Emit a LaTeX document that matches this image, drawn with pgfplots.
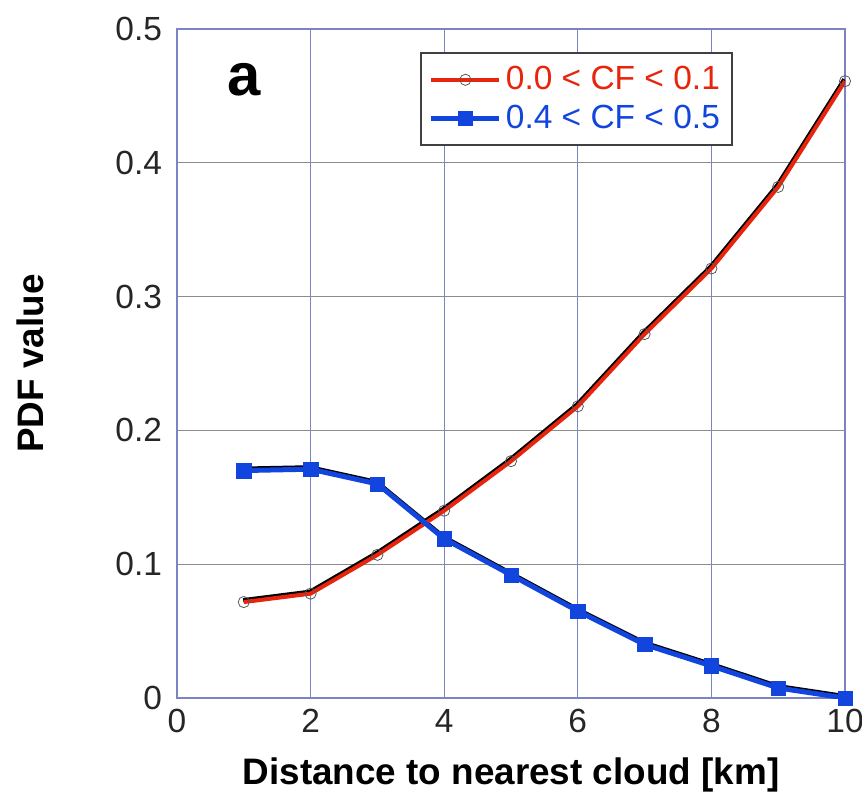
\documentclass[border=0pt]{standalone}
\usepackage{fontspec}
\setmainfont{Liberation Sans}
\usepackage{pgfplots}
\pgfplotsset{compat=1.18}
\definecolor{cfred}{RGB}{232,36,12}
\definecolor{cfblue}{RGB}{18,68,222}
\definecolor{gridblue}{RGB}{125,132,195}
\definecolor{gridgray}{RGB}{140,140,140}
\pgfplotstableread{
x y
1 0.0717
2 0.0780
3 0.1070
4 0.1400
5 0.1770
6 0.2180
7 0.2720
8 0.3210
9 0.3820
10 0.4610
}\redtab
\pgfplotstableread{
x y
1 0.1700
2 0.1710
3 0.1600
4 0.1190
5 0.0920
6 0.0650
7 0.0400
8 0.0240
9 0.0075
10 0.0000
}\bluetab
\begin{document}
\begin{tikzpicture}
\begin{axis}[
  scale only axis, width=334bp, height=334.5bp,
  xmin=0, xmax=10, ymin=0, ymax=0.5,
  xtick={0,2,4,6,8,10}, ytick={0,0.1,0.2,0.3,0.4,0.5},
  /pgf/number format/assume math mode=true,
  tick label style={font=\fontsize{16.8}{19}\selectfont, text=black!85},
  major tick length=0pt,
  xticklabel style={yshift=-2bp},
  yticklabel style={xshift=-4bp},
  grid=major,
  x grid style={gridblue, line width=0.6bp},
  y grid style={gridgray, line width=0.6bp},
  axis line style={gridblue, line width=0.6bp},
  xlabel={\bfseries Distance to nearest cloud [km]},
  ylabel={\bfseries PDF value},
  label style={font=\fontsize{18.5}{21}\selectfont\bfseries},
  xlabel style={at={(axis description cs:0.5,0)}, anchor=center, yshift=-38.5bp},
  ylabel style={at={(axis description cs:0,0.5)}, anchor=center, yshift=73.5bp},
  legend style={at={(rel axis cs:0.832,0.966)}, anchor=north east,
    draw=black!75, line width=0.9bp, font=\fontsize{16.8}{19}\selectfont,
    inner xsep=4bp, inner ysep=5bp, row sep=2bp},
  legend cell align=left,
  legend image code/.code={
    \draw[#1] (0bp,0bp) -- (17bp,0bp) plot coordinates {(17bp,0bp)} -- (34bp,0bp);
  },
]
\addplot[black, line width=2.2bp, yshift=0.9bp, xshift=-0.3bp, forget plot] table {\redtab};
\addplot[black, line width=2.2bp, yshift=0.9bp, xshift=-0.3bp, forget plot] table {\bluetab};
\addplot[cfred, line width=2bp, mark=o, mark size=2.8bp,
  mark options={draw=black!65, line width=0.4bp, fill=none}] table {\redtab};
\addlegendentry{\textcolor{cfred}{0.0 < CF < 0.1}}
\addplot[cfblue, line width=2.5bp, mark=square*, mark size=3.6bp,
  mark options={draw=cfblue, fill=cfblue, line width=0.2bp}] table {\bluetab};
\addlegendentry{\textcolor{cfblue}{0.4 < CF < 0.5}}
\node[font=\fontsize{30}{34}\selectfont\bfseries] at (axis cs:1.0,0.462) {a};
\coordinate (sw) at (rel axis cs:0,0);
\coordinate (ne) at (rel axis cs:1,1);
\end{axis}
\pgfresetboundingbox
\path ([shift={(-88.5bp,-49bp)}]sw) rectangle ([shift={(8.5bp,14.5bp)}]ne);
\end{tikzpicture}
\end{document}
